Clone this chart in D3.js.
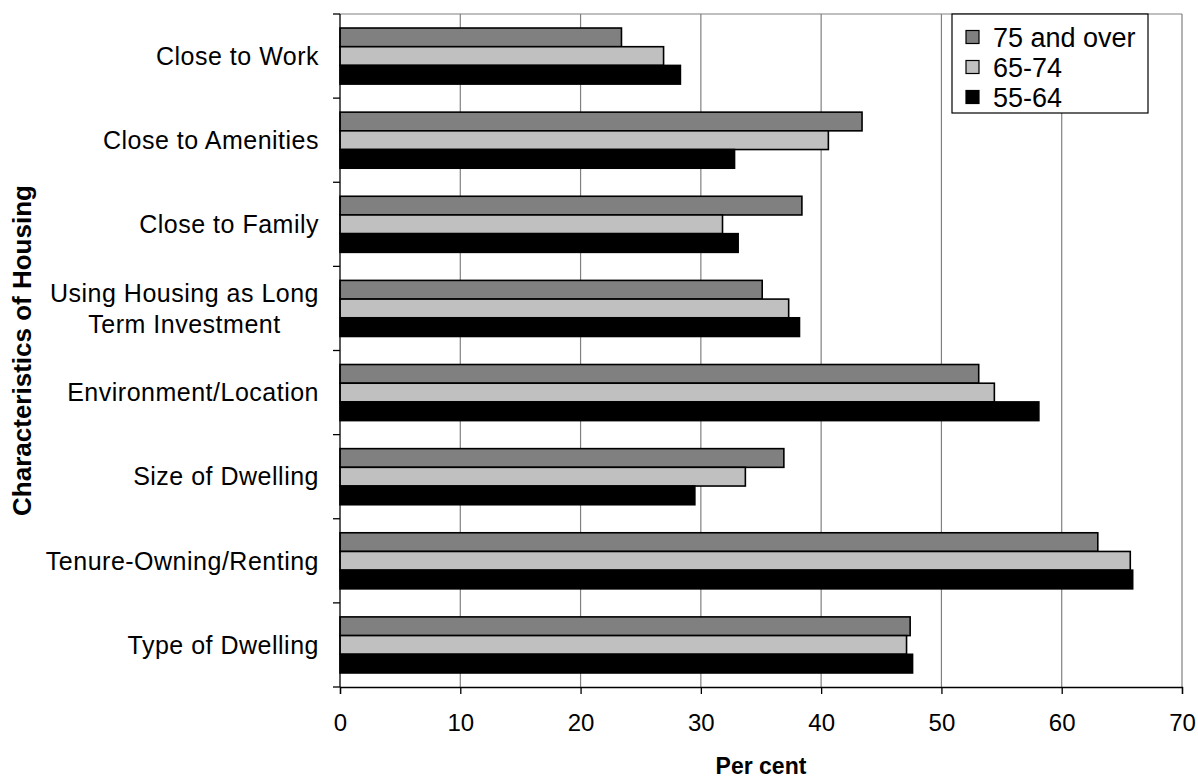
<!DOCTYPE html>
<html>
<head>
<meta charset="utf-8">
<script src="https://cdn.jsdelivr.net/npm/d3@7"></script>
<style>
  body { margin: 0; background: #fff; }
  text { font-family: "Liberation Sans", Arial, sans-serif; }
</style>
</head>
<body>
<div id="chart"></div>
<script>
// data
let categories = ['Close to Work', 'Close to Amenities', 'Close to Family',
	'Using Housing as Long Term Investment', 'Environment/Location',
	'Size of Dwelling', 'Tenure-Owning/Renting', 'Type of Dwelling'];
let categoryLines = [['Close to Work'], ['Close to Amenities'], ['Close to Family'],
	['Using Housing as Long', 'Term Investment'], ['Environment/Location'],
	['Size of Dwelling'], ['Tenure-Owning/Renting'], ['Type of Dwelling']];
let seriesNames = ['75 and over', '65-74', '55-64'];
let over75 = [23.4, 43.4, 38.4, 35.1, 53.1, 36.9, 63.0, 47.4];
let age6574 = [26.9, 40.6, 31.8, 37.3, 54.4, 33.7, 65.7, 47.1];
let age5564 = [28.3, 32.8, 33.1, 38.2, 58.1, 29.5, 65.9, 47.6];
let xTicks = [0, 10, 20, 30, 40, 50, 60, 70];

let seriesValues = [over75, age6574, age5564];
let colors = ['#808080', '#c0c0c0', '#000000'];

let svgWidth = 1198, svgHeight = 780;
let padding = { left: 340, right: 16, top: 14, bottom: 93 };

let svg = d3.select('#chart').append('svg')
	.attr('width', svgWidth)
	.attr('height', svgHeight);

let x = d3.scaleLinear()
	.domain([0, 70])
	.range([padding.left, svgWidth - padding.right]);

let y = d3.scaleBand()
	.domain(categories)
	.range([padding.top, svgHeight - padding.bottom]);

let inner = d3.scaleBand()
	.domain(seriesNames)
	.range([0, y.bandwidth()])
	.paddingOuter(0.75);

// grid lines
svg.append('g')
	.selectAll('line')
	.data(xTicks.slice(1))
	.enter()
	.append('line')
	.attr('x1', d => x(d))
	.attr('x2', d => x(d))
	.attr('y1', padding.top)
	.attr('y2', svgHeight - padding.bottom)
	.attr('stroke', '#808080')
	.attr('stroke-width', 1.2);

svg.append('line')
	.attr('x1', padding.left)
	.attr('x2', svgWidth - padding.right)
	.attr('y1', padding.top)
	.attr('y2', padding.top)
	.attr('stroke', '#808080')
	.attr('stroke-width', 1.2);

// bars
let groups = svg.append('g')
	.selectAll('g')
	.data(seriesNames)
	.enter()
	.append('g')
	.attr('fill', (d, i) => colors[i]);

groups.selectAll('rect')
	.data((d, i) => categories.map((c, j) => ({ cat: c, name: d, value: seriesValues[i][j] })))
	.enter()
	.append('rect')
	.attr('x', x(0))
	.attr('y', d => y(d.cat) + inner(d.name))
	.attr('width', d => x(d.value) - x(0))
	.attr('height', inner.bandwidth())
	.attr('stroke', '#000')
	.attr('stroke-width', 1.6);

// x axis
let axisX = d3.axisBottom(x)
	.tickValues(xTicks)
	.tickSize(7)
	.tickPadding(20)
	.tickFormat(d => d);

let gx = svg.append('g')
	.attr('transform', `translate(0, ${svgHeight - padding.bottom})`)
	.call(axisX);
gx.select('.domain').attr('stroke', '#000').attr('stroke-width', 1.3);
gx.selectAll('.tick line').attr('stroke', '#000').attr('stroke-width', 1.3);
gx.selectAll('.tick text')
	.attr('font-size', '24px')
	.attr('font-family', '"Liberation Sans", Arial, sans-serif')
	.attr('fill', '#000');

// y axis: line, ticks between categories, labels
let yEdges = categories.map(c => y(c)).concat([y.range()[1]]);
svg.append('line')
	.attr('x1', padding.left)
	.attr('x2', padding.left)
	.attr('y1', padding.top)
	.attr('y2', svgHeight - padding.bottom)
	.attr('stroke', '#000')
	.attr('stroke-width', 1.3);
svg.append('g')
	.selectAll('line')
	.data(yEdges)
	.enter()
	.append('line')
	.attr('x1', padding.left - 7)
	.attr('x2', padding.left)
	.attr('y1', d => d)
	.attr('y2', d => d)
	.attr('stroke', '#000')
	.attr('stroke-width', 1.3);

let labelRight = padding.left - 21;
let labels = svg.append('g')
	.selectAll('g')
	.data(categories)
	.enter()
	.append('g')
	.attr('transform', (d, i) => `translate(${labelRight}, ${y(d) + y.bandwidth() / 2})`);

labels.each(function(d, i) {
	let lines = categoryLines[i];
	let g = d3.select(this);
	let lineH = 31;
	if (lines.length == 1) {
		g.append('text')
			.attr('text-anchor', 'end')
			.attr('dy', '0.35em')
			.attr('font-size', '25px')
			.attr('letter-spacing', '0.5px')
			.text(lines[0]);
	} else {
		// wrapped label, centred like the original
		let t = g.append('text')
			.attr('font-size', '25px')
			.attr('letter-spacing', '0.5px')
			.attr('text-anchor', 'middle');
		t.selectAll('tspan')
			.data(lines)
			.enter()
			.append('tspan')
			.attr('x', 0)
			.attr('y', (l, k) => (k - (lines.length - 1) / 2) * lineH)
			.attr('dy', '0.35em')
			.text(l => l);
		let w = t.node().getBBox().width;
		t.attr('transform', `translate(${-w / 2}, 0)`);
	}
});

// axis titles
svg.append('text')
	.attr('x', (padding.left + svgWidth - padding.right) / 2)
	.attr('y', 774)
	.attr('text-anchor', 'middle')
	.attr('font-size', '23px')
	.attr('font-weight', 'bold')
	.text('Per cent');

svg.append('text')
	.attr('transform', `translate(31, ${(padding.top + svgHeight - padding.bottom) / 2}) rotate(-90)`)
	.attr('text-anchor', 'middle')
	.attr('font-size', '26px')
	.attr('font-weight', 'bold')
	.text('Characteristics of Housing');

// legend
let legend = svg.append('g')
	.attr('transform', 'translate(952, 14)');

legend.append('rect')
	.attr('width', 196)
	.attr('height', 99)
	.attr('fill', '#fff')
	.attr('stroke', '#000')
	.attr('stroke-width', 1.2);

let items = legend.selectAll('.legend')
	.data(seriesNames)
	.enter()
	.append('g')
	.attr('class', 'legend')
	.attr('transform', (d, i) => `translate(14, ${23 + i * 30})`);

items.append('rect')
	.attr('x', 0)
	.attr('y', -6.5)
	.attr('width', 13)
	.attr('height', 13)
	.attr('fill', (d, i) => colors[i])
	.attr('stroke', '#000')
	.attr('stroke-width', 1.2);

items.append('text')
	.attr('x', 27)
	.attr('dy', '0.36em')
	.attr('font-size', '27px')
	.text(d => d);
</script>
</body>
</html>
